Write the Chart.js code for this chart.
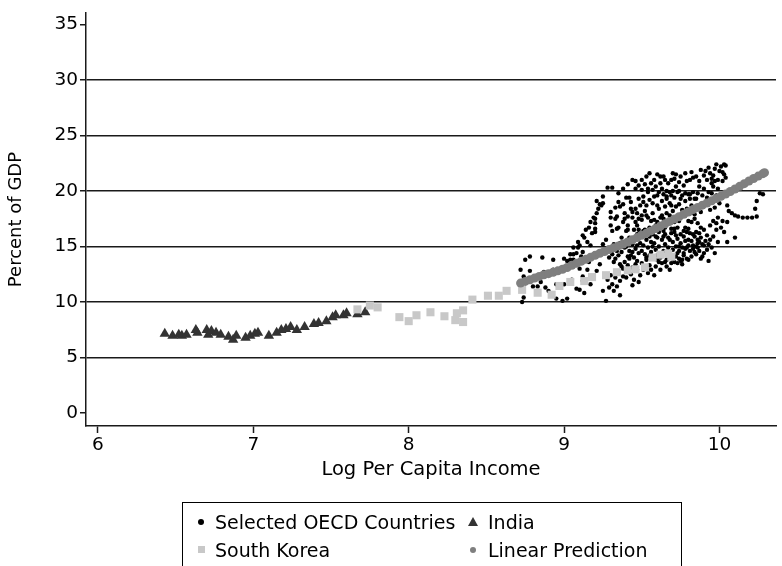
<!DOCTYPE html>
<html>
<head>
<meta charset="utf-8">
<script src="https://cdn.jsdelivr.net/npm/chart.js@4.4.1/dist/chart.umd.min.js"></script>
<style>
  html, body { margin: 0; padding: 0; background: #fff; }
  #wrap { position: relative; width: 782px; height: 566px; overflow: hidden; }
  #legend { position: absolute; left: 182px; top: 502px; width: 498px; height: 90px; border: 1px solid #000;
            font: 19px "DejaVu Sans", sans-serif; color: #000; }
  .txt { position: absolute; white-space: nowrap; line-height: 24px; }
  .mk { position: absolute; }
</style>
</head>
<body>
<div id="wrap">
  <canvas id="chart" width="782" height="566"></canvas>
  <div id="legend">
    <div class="mk" style="left:15px;top:16px;width:6px;height:6px;border-radius:50%;background:#000"></div>
    <div class="txt" style="left:32px;top:7px">Selected OECD Countries</div>
    <div class="mk" style="left:285px;top:14px;width:0;height:0;border-left:5px solid transparent;border-right:5px solid transparent;border-bottom:9px solid #333"></div>
    <div class="txt" style="left:305px;top:7px">India</div>
    <div class="mk" style="left:15px;top:43px;width:7px;height:7px;background:#c8c8c8"></div>
    <div class="txt" style="left:32px;top:35px">South Korea</div>
    <div class="mk" style="left:287px;top:44px;width:6px;height:6px;border-radius:50%;background:#7f7f7f"></div>
    <div class="txt" style="left:305px;top:35px">Linear Prediction</div>
  </div>
</div>
<script>
const xTicks = [6, 7, 8, 9, 10]
const yTicks = [0, 5, 10, 15, 20, 25, 30, 35]

// [log per capita income, percent of GDP]
const india = [
  [6.43,7.13],[6.48,6.95],[6.52,7.04],[6.54,6.95],[6.57,7.04],[6.63,7.48],[6.64,7.22],[6.70,7.48],
  [6.71,7.04],[6.73,7.39],[6.76,7.22],[6.79,7.04],[6.84,6.87],[6.87,6.60],[6.89,6.95],[6.95,6.78],
  [6.98,6.95],[7.01,7.13],[7.03,7.22],[7.10,6.95],[7.15,7.22],[7.18,7.48],[7.21,7.57],[7.24,7.75],
  [7.28,7.48],[7.33,7.75],[7.39,8.01],[7.42,8.10],[7.47,8.27],[7.51,8.63],[7.53,8.80],[7.58,8.80],
  [7.60,8.98],[7.67,8.89],[7.72,9.07]
]

const korea = [
  [7.67,9.33],[7.75,9.68],[7.80,9.51],[7.94,8.63],[8.00,8.27],[8.05,8.80],[8.14,9.07],[8.23,8.71],
  [8.30,8.36],[8.31,8.98],[8.35,9.24],[8.35,8.19],[8.41,10.21],[8.51,10.56],[8.58,10.56],[8.63,11.00],
  [8.73,11.09],[8.83,10.83],[8.92,10.65],[8.97,11.44],[9.04,11.80],[9.13,11.88],[9.18,12.24],[9.27,12.41],
  [9.34,12.68],[9.41,12.85],[9.46,12.94],[9.52,13.12],[9.57,14.00],[9.62,14.26],[9.67,14.35],[9.69,14.08]
]

const prediction = [
  [8.72,11.70],[8.75,11.85],[8.78,12.00],[8.81,12.15],[8.84,12.30],[8.87,12.45],[8.90,12.55],[8.93,12.68],
  [8.96,12.80],[8.99,12.95],[9.02,13.10],[9.05,13.30],[9.08,13.48],[9.11,13.66],[9.14,13.84],[9.17,14.02],
  [9.20,14.20],[9.23,14.38],[9.26,14.55],[9.29,14.72],[9.32,14.88],[9.35,15.05],[9.38,15.22],[9.41,15.40],
  [9.44,15.60],[9.47,15.80],[9.50,16.00],[9.53,16.20],[9.56,16.40],[9.59,16.62],[9.62,16.84],[9.65,17.05],
  [9.68,17.26],[9.71,17.47],[9.74,17.68],[9.77,17.90],[9.80,18.11],[9.83,18.32],[9.86,18.52],[9.89,18.72],
  [9.92,18.92],[9.95,19.12],[9.98,19.32],[10.01,19.52],[10.04,19.73],[10.07,19.95],[10.10,20.18],[10.13,20.42],
  [10.16,20.66],[10.19,20.90],[10.22,21.12],[10.25,21.34],[10.28,21.56],[10.29,21.65]
]

const oecd = [
  // low-income edge
  [8.73,10.0],[8.74,10.4],[8.74,12.3],[8.72,12.9],[8.75,13.8],[8.78,14.1],[8.78,12.8],[8.80,11.4],
  [8.83,11.4],[8.85,11.8],[8.88,11.3],[8.87,12.7],[8.86,14.0],[8.90,11.0],[8.93,13.8],[8.93,12.9],
  [8.95,11.6],[8.95,10.3],[8.99,10.1],[9.00,13.9],[9.00,13.1],[9.00,11.6],[9.02,10.3],[9.04,13.8],
  [9.05,12.0],[9.06,14.3],[9.08,11.2],[9.09,14.9],[9.10,13.0],[9.12,12.3],[9.12,11.9],[9.15,12.9],
  [9.16,13.6],
  // rising trail
  [9.02,13.7],[9.04,14.3],[9.06,14.9],[9.09,15.4],[9.10,15.1],[9.12,16.0],[9.13,15.8],[9.14,16.5],
  [9.16,16.7],[9.17,17.2],[9.19,17.6],[9.20,17.1],[9.21,18.0],[9.22,18.4],[9.24,18.7],[9.25,18.9],
  [9.25,19.5],[9.28,20.3],[9.31,20.3],[9.20,16.6],[9.18,16.2],[9.15,15.4],[9.12,14.5],[9.08,14.4],
  [9.06,13.8],[9.11,14.1],[9.17,15.1],[9.21,19.1],[9.23,18.8],
  [9.30,18.1],[9.34,17.7],[9.38,17.2],[9.41,17.7],[9.44,18.1],[9.47,16.9],[9.50,17.4],[9.53,17.8],
  [9.34,16.6],[9.40,16.4],[9.31,16.4],[9.37,15.8],[9.47,16.1],[9.51,16.4],[9.27,15.6],[9.25,15.2],
  [9.31,14.9],[9.34,14.6],[9.29,14.0],[9.32,13.6],[9.23,13.4],[9.21,12.8],[9.19,12.2],[9.17,11.6],
  [9.13,10.8],[9.10,11.1],
  [9.25,11.0],[9.27,10.1],[9.29,11.3],[9.31,11.6],[9.33,12.2],[9.36,11.9],[9.38,12.3],[9.41,12.8],
  [9.44,13.1],[9.46,13.4],[9.32,11.0],[9.34,11.4],[9.40,12.2],[9.35,12.7],[9.37,13.2],[9.30,12.4],
  [9.28,12.0],[9.39,13.6],[9.42,13.9],[9.36,10.6],
  // top band
  [9.35,19.8],[9.38,20.2],[9.41,20.6],[9.46,20.9],[9.50,21.0],[9.53,21.3],[9.60,21.5],[9.64,21.3],
  [9.65,21.0],[9.67,20.7],[9.69,21.0],[9.71,21.1],[9.72,21.5],[9.75,21.3],[9.79,20.9],[9.81,21.0],
  [9.82,21.7],[9.46,20.2],[9.50,20.1],[9.54,20.2],[9.59,20.4],[9.63,20.2],[9.66,20.0],[9.40,19.4],
  [9.42,19.4],[9.56,20.7],[9.44,21.0],[9.48,20.5],[9.58,21.0],[9.62,20.7],[9.77,20.5],[9.74,20.8],
  [9.85,21.3],[9.87,20.9],[9.90,21.4],[9.94,21.6],[9.95,21.1],[9.97,22.0],[9.98,22.4],[10.01,22.2],
  [10.03,22.4],[10.04,22.3],[10.02,21.7],[10.03,21.5],[9.92,21.0],[9.95,20.7],[9.96,20.4],[9.99,20.2],
  [9.90,20.2],[9.86,19.8],[9.84,19.3],[9.81,19.7],[9.87,20.4],[9.93,19.9],[9.89,19.6],[9.98,19.6],
  [9.60,19.6],[9.64,19.7],[9.66,19.3],[9.69,19.6],[9.73,19.9],[9.76,19.6],[9.80,19.7],[9.83,19.9],
  [9.85,19.3],
  [9.91,21.8],[9.93,22.1],[9.96,21.4],[9.99,21.0],[10.00,21.8],[10.02,20.9],[9.88,21.9],[9.97,20.9],
  [10.04,21.2],[9.83,21.2],[9.78,21.6],[9.70,21.6],[9.62,21.3],[9.55,21.6],[9.52,20.6],
  // right tail
  [10.08,18.0],[10.10,17.8],[10.12,17.7],[10.15,17.6],[10.18,17.6],[10.21,17.6],[10.24,17.7],[10.23,18.4],
  [10.24,19.1],[10.26,19.8],[10.28,19.7],[10.05,18.7],[10.06,18.2],
  [10.05,17.2],[10.01,16.7],[9.98,16.5],[10.03,16.3],[10.10,15.8],[10.05,15.4],[9.99,15.4],[9.94,15.6],
  [9.90,15.1],[9.86,15.3],[9.83,15.1],[9.80,15.1],[9.86,14.9],[9.92,14.7],[9.97,14.4],[9.90,14.4],
  [9.84,14.5],[9.79,18.4],[9.81,18.0],[9.84,17.5],[9.82,17.2],[9.86,17.1],[9.88,16.7],[9.80,16.6],
  [9.85,16.3],[9.90,16.5],[9.94,16.9],[9.96,17.3],[9.99,17.6],[10.02,17.3],[9.98,17.1],[9.77,14.2],
  [9.74,13.9],[9.80,13.8],[9.71,13.6],[9.88,13.9],[9.93,13.7],[9.78,14.8],[9.92,16.0],[9.96,15.9],
  [9.92,19.4],[9.95,19.8],[9.90,18.9],[9.94,18.3],[9.97,18.5],[10.00,18.9],
  // core, above the fit
  [9.20,17.5],[9.30,17.6],[9.33,17.5],[9.39,18.0],[9.46,18.4],[9.49,18.7],[9.52,18.2],[9.57,18.9],
  [9.60,18.7],[9.63,19.1],[9.68,18.9],[9.69,18.7],[9.66,18.0],[9.71,19.4],[9.74,20.0],[9.78,19.8],
  [9.81,19.3],[9.72,20.4],[9.44,17.6],[9.48,17.5],[9.41,16.9],[9.46,17.2],[9.50,17.8],[9.54,17.6],
  [9.57,18.0],[9.61,18.4],[9.63,17.8],[9.67,17.3],[9.71,17.2],[9.74,17.3],[9.78,17.8],[9.80,17.3],
  [9.55,16.7],[9.59,16.9],[9.62,16.9],[9.65,16.7],[9.69,16.6],[9.73,16.7],[9.20,16.3],[9.30,16.9],
  [9.35,16.7],[9.41,16.5],[9.48,16.5],[9.52,16.5],[9.76,18.3],[9.55,19.2],[9.51,19.0],[9.58,19.5],
  [9.74,18.8],[9.70,18.2],[9.36,18.6],[9.43,19.0],[9.48,19.3],[9.53,18.7],[9.39,17.5],[9.45,16.5],
  [9.58,17.4],[9.62,17.6],[9.66,19.5],[9.70,20.0],
  [9.43,18.4],[9.47,18.0],[9.51,19.5],[9.54,19.9],[9.57,20.1],[9.61,19.9],[9.65,18.6],[9.68,19.9],
  [9.72,18.6],[9.75,19.3],[9.78,19.1],[9.82,18.7],[9.56,17.3],[9.60,17.2],[9.64,17.5],[9.68,17.8],
  [9.35,19.0],[9.33,18.5],[9.38,18.8],
  // core, below the fit
  [9.40,15.0],[9.42,14.6],[9.43,14.2],[9.44,15.2],[9.45,14.0],[9.46,14.8],[9.47,13.7],[9.48,14.4],
  [9.49,15.3],[9.50,13.5],[9.41,13.3],[9.43,12.5],[9.45,12.0],[9.47,12.9],[9.49,12.4],[9.44,11.5],
  [9.48,11.8],
  [9.51,15.1],[9.52,14.3],[9.53,15.6],[9.53,13.8],[9.54,14.9],[9.55,15.9],[9.55,13.3],[9.56,14.5],
  [9.57,16.1],[9.57,13.9],[9.58,15.3],[9.59,14.7],[9.59,13.2],[9.60,15.8],[9.51,12.9],[9.54,12.6],
  [9.56,12.9],[9.58,12.4],[9.52,16.0],[9.60,14.2],
  [9.61,16.3],[9.61,15.0],[9.62,14.0],[9.63,15.6],[9.63,13.5],[9.64,14.6],[9.65,16.1],[9.65,15.2],
  [9.66,13.8],[9.67,14.9],[9.67,15.8],[9.68,14.3],[9.69,16.2],[9.69,13.5],[9.70,15.4],[9.70,14.7],
  [9.62,12.9],[9.66,13.2],[9.68,12.9],[9.64,16.4],
  [9.71,16.3],[9.72,15.0],[9.72,14.1],[9.73,15.7],[9.74,14.6],[9.75,16.1],[9.75,15.3],[9.76,13.8],
  [9.77,15.9],[9.77,14.4],[9.78,15.5],[9.79,16.3],[9.79,14.9],[9.80,15.6],[9.73,13.5],[9.76,13.4],
  [9.78,16.7],[9.71,16.6],
  [9.81,16.2],[9.82,15.5],[9.83,14.8],[9.84,15.9],[9.85,14.3],[9.86,15.6],[9.87,14.6],[9.88,15.8],
  [9.89,15.2],[9.82,14.1],[9.87,16.2],[9.84,17.9],[9.86,18.4],[9.88,18.1],
  [9.31,14.3],[9.33,13.9],[9.35,14.2],[9.36,13.4],[9.37,14.5],[9.38,13.0],[9.39,14.9],[9.32,15.2],
  [9.36,15.3],[9.38,15.0],
  [9.42,15.8],[9.45,15.6],[9.50,14.6],[9.52,13.1],[9.55,14.2],[9.57,15.0],[9.59,15.9],[9.61,13.6],
  [9.63,14.3],[9.64,15.9],[9.66,14.5],[9.68,15.6],[9.70,13.9],[9.72,16.0],[9.74,15.0],[9.76,14.9],
  [9.77,16.4],[9.79,13.9],[9.81,14.6],[9.83,16.1],[9.85,15.0],[9.87,15.4],[9.89,14.1],[9.91,15.5],
  [9.93,15.2],[9.95,14.9],[9.53,14.0],[9.56,15.4],[9.60,13.8],[9.65,13.6],[9.69,14.0],[9.73,14.4],
  [9.75,13.7],[9.47,15.1],[9.44,14.5],[9.41,14.1]
]

const pts = arr => arr.map(([x, y]) => ({ x, y }))
const tickFont = { family: '"DejaVu Sans", sans-serif', size: 18.5 }
const xTitleFont = { family: '"DejaVu Sans", sans-serif', size: 19.5 }
const yTitleFont = { family: '"DejaVu Sans", sans-serif', size: 18 }
const gridInk = '#1a1a1a'

new Chart(document.getElementById('chart'), {
  type: 'scatter',
  data: {
    datasets: [
      { label: 'Linear Prediction', data: pts(prediction), pointStyle: 'circle', pointRadius: 4.5,
        backgroundColor: '#7f7f7f', borderWidth: 0, order: 0 },
      { label: 'South Korea', data: pts(korea), pointStyle: 'rect', pointRadius: 5.7,
        backgroundColor: '#c8c8c8', borderWidth: 0, order: 1 },
      { label: 'India', data: pts(india), pointStyle: 'triangle', pointRadius: 6,
        backgroundColor: '#333333', borderWidth: 0, order: 2 },
      { label: 'Selected OECD Countries', data: pts(oecd), pointStyle: 'circle', pointRadius: 2.2,
        backgroundColor: '#000000', borderWidth: 0, order: 3 }
    ]
  },
  options: {
    responsive: false,
    animation: false,
    layout: { padding: { top: 3, right: 0, bottom: 84, left: 0 } },
    plugins: { legend: { display: false }, tooltip: { enabled: false } },
    scales: {
      x: {
        type: 'linear', min: 5.923, max: 10.364,
        afterBuildTicks: s => { s.ticks = xTicks.map(v => ({ value: v })) },
        afterFit: s => { s.height = 56 },
        grid: { drawOnChartArea: false, tickLength: 7, tickColor: gridInk, color: gridInk, tickWidth: 1.5 },
        border: { color: gridInk, width: 1.5 },
        ticks: { color: '#000', font: tickFont, padding: 1, maxRotation: 0 },
        title: { display: true, text: 'Log Per Capita Income', color: '#000', font: xTitleFont, padding: { top: 0, bottom: 0 } }
      },
      y: {
        type: 'linear', min: -1.18, max: 36.03,
        afterBuildTicks: s => { s.ticks = yTicks.map(v => ({ value: v })) },
        afterFit: s => { s.width = 86 },
        grid: {
          color: c => (c.tick && c.tick.value >= 5 && c.tick.value <= 30) ? gridInk : 'rgba(0,0,0,0)',
          tickColor: gridInk, tickLength: 6, lineWidth: 1.5, tickWidth: 1.5
        },
        border: { color: gridInk, width: 1.5 },
        ticks: { color: '#000', font: tickFont, padding: 2 },
        title: { display: true, text: 'Percent of GDP', color: '#000', font: yTitleFont, padding: { top: 6, bottom: 0 } }
      }
    }
  }
})
</script>
</body>
</html>
